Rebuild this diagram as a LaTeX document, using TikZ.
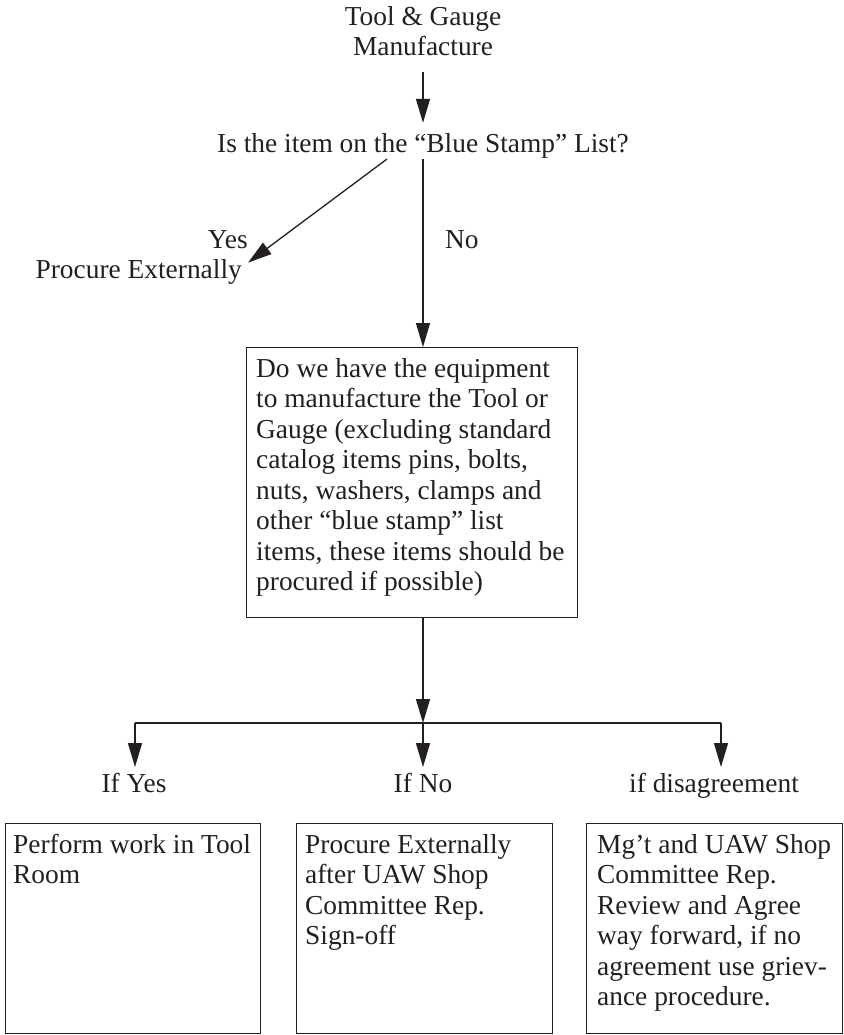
\documentclass[tikz,border=0pt]{standalone}
\usepackage{fontspec}
\setmainfont{Liberation Serif}
\usetikzlibrary{arrows.meta}
\definecolor{inkc}{RGB}{35,31,32}
\begin{document}
\begin{tikzpicture}[x=1pt,y=-1pt,
  every node/.style={font=\fontsize{27.4}{30.5}\selectfont, text=inkc},
  lbl/.style={inner sep=0pt},
  connector/.style={draw=inkc, line width=1.3pt},
  arr/.style={connector, -{Triangle[length=24pt,width=14pt]}},
  box/.style={draw=inkc, line width=1.3pt, inner sep=0pt, anchor=north west},
  boxtext/.style={inner sep=0pt, anchor=north west, align=left}]
\useasboundingbox (0,0) rectangle (843,1035);

% top texts
\node[lbl, align=center, anchor=north] (tg) at (423,3.65) {\strut Tool \& Gauge\\Manufacture};
\node[lbl, anchor=base] (q) at (423,153) {Is the item on the “Blue Stamp” List?};
\node[lbl, anchor=north east, align=right] (yes) at (248,226.65) {\strut Yes\\Procure Externally\hspace*{6pt}};
\node[lbl, anchor=base west] (no) at (445,248) {No};

% main box
\node[box, minimum width=331pt, minimum height=270pt] (mb) at (246,347) {};
\node[boxtext] (mbt) at ([shift={(10pt,-8.65pt)}]mb.north west) {\strut Do we have the equipment\\to manufacture the Tool or\\Gauge (excluding standard\\catalog items pins, bolts,\\nuts, washers, clamps and\\other “blue stamp” list\\items, these items should be\\procured if possible)};

% branch labels
\node[lbl, anchor=base] (ly) at (134,792) {If Yes};
\node[lbl, anchor=base] (ln) at (423,792) {If No};
\node[lbl, anchor=base] (ld) at (714,792) {if disagreement};

% bottom boxes
\node[box, minimum width=255pt, minimum height=210pt] (b1) at (5,823) {};
\node[box, minimum width=256pt, minimum height=210pt] (b2) at (296,823) {};
\node[box, minimum width=256pt, minimum height=210pt] (b3) at (586,823) {};
\node[boxtext] (b1t) at ([shift={(8pt,-8.65pt)}]b1.north west) {\strut Perform work in Tool\\Room};
\node[boxtext] (b2t) at ([shift={(9pt,-8.65pt)}]b2.north west) {\strut Procure Externally\\after UAW Shop\\Committee Rep.\\Sign-off};
\node[boxtext] (b3t) at ([shift={(11pt,-8.65pt)}]b3.north west) {\strut Mg’t and UAW Shop\\Committee Rep.\\Review and Agree\\way forward, if no\\agreement use griev-\\ance procedure.};

% connector points
\coordinate (qs) at ([xshift=-36pt]q.south);
\coordinate (yestip) at ([yshift=-36pt]yes.north east);
\coordinate (hm) at (423,723);
\coordinate (hl) at (135,723);
\coordinate (hr) at (721,723);

% connectors
\draw[arr, shorten <=16pt, shorten >=11pt] (tg.south) -- (q.north);
\draw[arr] (qs) -- (yestip);
\draw[arr] (q.south) -- (q.south |- mb.north);
\draw[arr] (mb.south -| q) -- (hm);
\draw[connector] (hl) -- (hr);
\draw[arr] (hl) -- ++(0,44);
\draw[arr] (hm) -- ++(0,44);
\draw[arr] (hr) -- ++(0,44);
\end{tikzpicture}
\end{document}
